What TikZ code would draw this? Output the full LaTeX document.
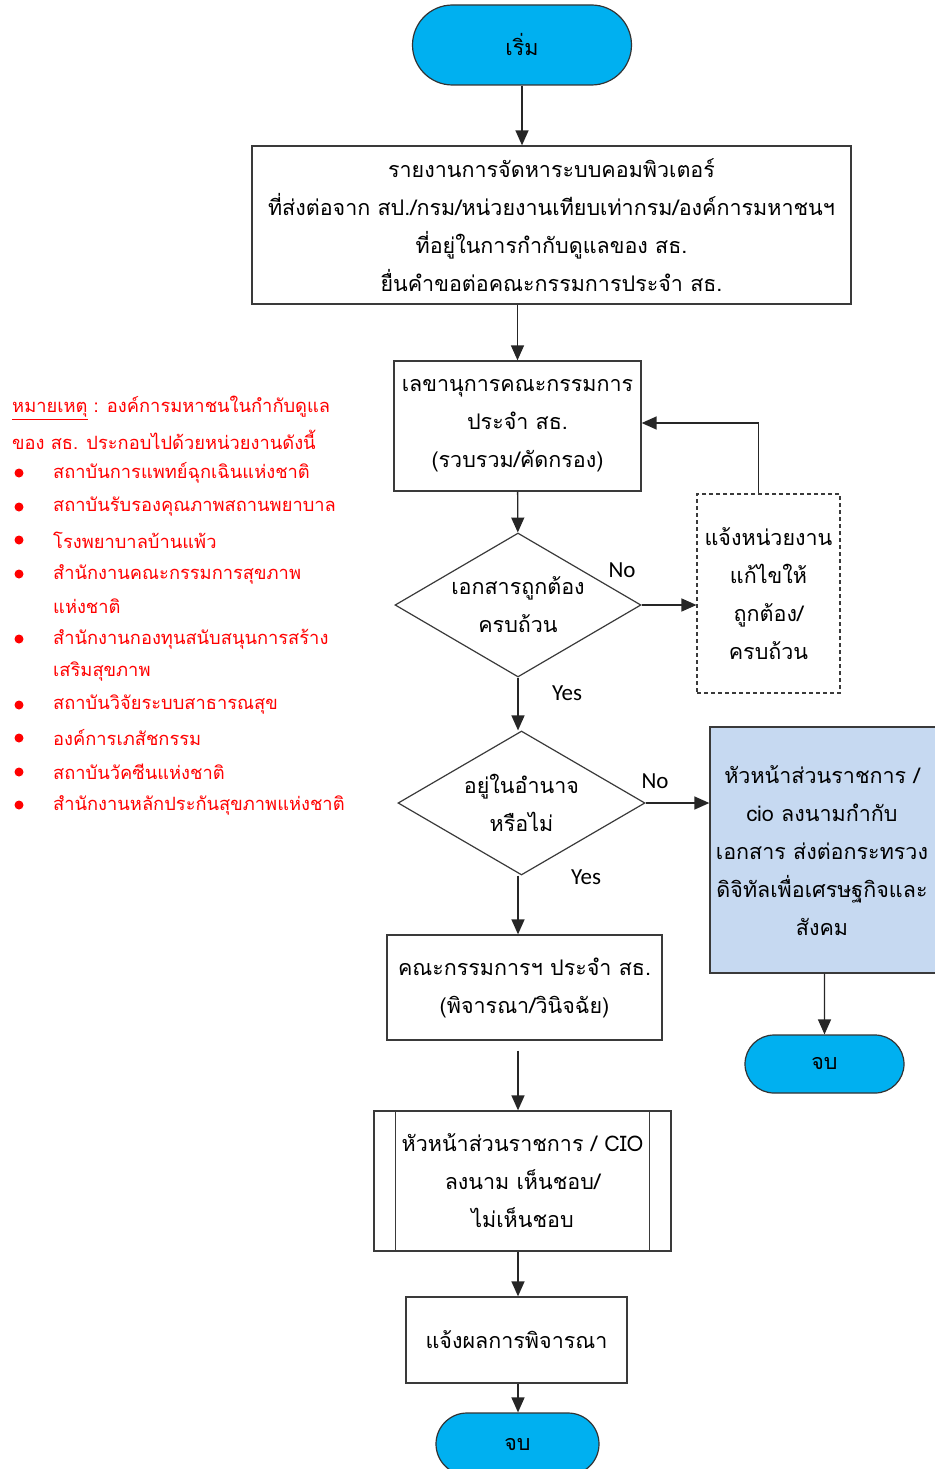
\documentclass[tikz,border=0pt]{standalone}
\usepackage{fontspec}
\newfontfamily\thai[Script=Thai]{Loma}
\newfontfamily\lat{Carlito}
\usetikzlibrary{shapes.geometric,shapes.misc,arrows.meta}
\definecolor{termblue}{HTML}{00B0F0}
\definecolor{paleblue}{HTML}{C6D9F1}
\definecolor{linegray}{HTML}{3A3A3A}
\begin{document}
\begin{tikzpicture}[x=1pt,y=-1pt,
  txt/.style={font=\thai\fontsize{21.5}{38}\selectfont, align=center},
  procbox/.style={txt, draw=linegray, line width=1.3pt, fill=white, inner sep=0pt},
  term/.style={txt, rounded rectangle, draw=black!80, line width=1.2pt, fill=termblue, inner sep=0pt},
  decision/.style={diamond, draw=linegray, line width=1.2pt, fill=white, inner sep=0pt},
  flow/.style={draw=black!85, line width=1.4pt, -{Triangle[length=15pt,width=13pt]}},
  yn/.style={font=\lat\fontsize{23}{24}\selectfont},
  note/.style={font=\thai\fontsize{18.3}{33}\selectfont, text=red, anchor=west, align=left, inner sep=0pt},
  bulletdot/.style={fill=red}
]
\useasboundingbox (0,0) rectangle (934,1469);

% main column
\node[term, minimum width=219pt, minimum height=80pt] (start) at (522,45) {เริ่ม};
\node[procbox, minimum width=599pt, minimum height=158pt] (report) at (551.5,225)
  {รายงานการจัดหาระบบคอมพิวเตอร์\\ที่ส่งต่อจาก สป./กรม/หน่วยงานเทียบเท่ากรม/องค์การมหาชนฯ\\ที่อยู่ในการกำกับดูแลของ สธ.\\ยื่นคำขอต่อคณะกรรมการประจำ สธ.};
\node[procbox, minimum width=247pt, minimum height=130pt] (secretary) at (517.5,426)
  {เลขานุการคณะกรรมการ\\ประจำ สธ.\\(รวบรวม/คัดกรอง)};
\node[decision, minimum width=246pt, minimum height=144pt,
  label={[txt]center:เอกสารถูกต้อง\\ครบถ้วน}] (check) at (518,605) {};
\node[procbox, dashed, dash pattern=on 4pt off 3pt, line width=1.1pt, minimum width=143pt, minimum height=199pt] (fix) at (768.5,593.5)
  {แจ้งหน่วยงาน\\แก้ไขให้\\ถูกต้อง/\\ครบถ้วน};
\node[decision, minimum width=247pt, minimum height=144pt,
  label={[txt]center:อยู่ในอำนาจ\\หรือไม่}] (power) at (521.5,803) {};
\node[procbox, fill=paleblue, minimum width=234pt, minimum height=246pt] (forward) at (827,850)
  {};
\node[txt] (forwardtext) at (822,851)
  {หัวหน้าส่วนราชการ /\\cio ลงนามกำกับ\\เอกสาร ส่งต่อกระทรวง\\ดิจิทัลเพื่อเศรษฐกิจและ\\สังคม};
\node[term, minimum width=159pt, minimum height=58pt] (endright) at (824.5,1064) {จบ};
\node[procbox, minimum width=275pt, minimum height=105pt] (committee) at (524.5,987.5)
  {คณะกรรมการฯ ประจำ สธ.\\(พิจารณา/วินิจฉัย)};
\node[procbox, minimum width=297pt, minimum height=140pt] (head) at (522.5,1181)
  {หัวหน้าส่วนราชการ / CIO\\ลงนาม เห็นชอบ/\\ไม่เห็นชอบ};
\draw[linegray, line width=1.3pt] ([xshift=22pt]head.north west) -- ([xshift=22pt]head.south west)
  ([xshift=-22pt]head.north east) -- ([xshift=-22pt]head.south east);
\node[procbox, minimum width=221pt, minimum height=86pt] (notify) at (516.5,1340) {แจ้งผลการพิจารณา};
\node[term, minimum width=163pt, minimum height=62pt] (endmain) at (517.5,1444) {จบ};

% connectors
\draw[flow] (start.south) -- (start.south |- report.north);
\draw[flow] (report.south -| secretary) -- (secretary);
\draw[flow] (secretary) -- (check);
\draw[flow] (check.east) -- (fix.west |- check.east);
\node[yn] (no1) at (622,570) {No};
\coordinate (fixup) at ([xshift=-10pt]fix.north);
\draw[flow] (fixup) |- ([yshift=3pt]secretary.east);
\draw[flow] (check.south) -- (power.north -| check.south);
\node[yn] (yes1) at (567,693) {Yes};
\draw[flow] (power.east) -- (forward.west |- power.east);
\node[yn] (no2) at (655,781) {No};
\draw[flow] (forward.south -| endright) -- (endright);
\draw[flow] (power.south -| check.south) -- (committee.north -| check.south);
\node[yn] (yes2) at (586,877) {Yes};
\draw[flow] ([yshift=-10pt]committee.south -| check.south) -- (head.north -| check.south);
\draw[flow] (head.south -| check.south) -- (notify.north -| check.south);
\draw[flow] (notify.south -| check.south) -- (endmain.north -| check.south);

% remarks on the left
\node[note] (remark1) at (12,408) {\underline{หมายเหตุ} :  องค์การมหาชนในกำกับดูแล};
\node[note] (remark2) at (12,440) {ของ สธ. ประกอบไปด้วยหน่วยงานดังนี้};
\foreach \name/\y/\t in {
  item1/473/สถาบันการแพทย์ฉุกเฉินแห่งชาติ,
  item2/507/สถาบันรับรองคุณภาพสถานพยาบาล,
  item3/540/โรงพยาบาลบ้านแพ้ว,
  item4/574/สำนักงานคณะกรรมการสุขภาพ,
  item5/639/สำนักงานกองทุนสนับสนุนการสร้าง,
  item6/705/สถาบันวิจัยระบบสาธารณสุข,
  item7/738/องค์การเภสัชกรรม,
  item8/772/สถาบันวัคซีนแห่งชาติ,
  item9/805/สำนักงานหลักประกันสุขภาพแห่งชาติ}{
  \fill[bulletdot] (19,\y) circle (4.5pt);
  \node[note] (\name) at (53,\y) {\t};
}
\node[note] (item4b) at (53,606) {แห่งชาติ};
\node[note] (item5b) at (53,672) {เสริมสุขภาพ};
\end{tikzpicture}
\end{document}
